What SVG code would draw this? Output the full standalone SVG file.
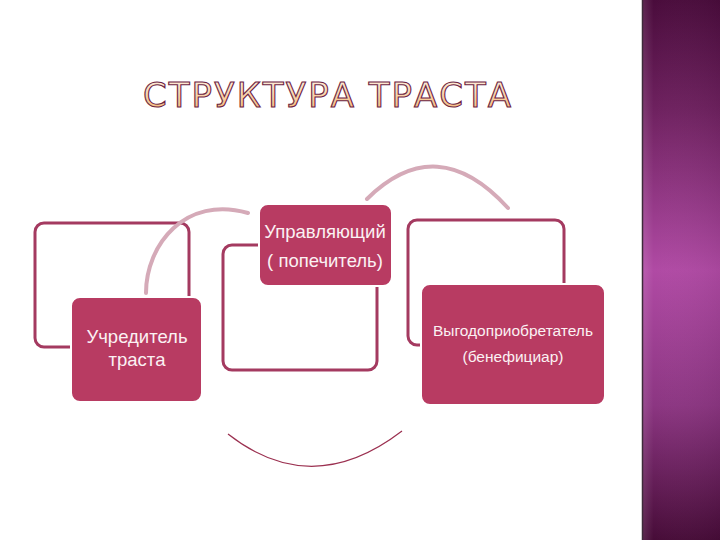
<svg xmlns="http://www.w3.org/2000/svg" width="720" height="540" viewBox="0 0 720 540">
<defs>
<linearGradient id="side" x1="0" y1="0" x2="0" y2="1">
<stop offset="0" stop-color="#4a0c3c"/>
<stop offset="0.2" stop-color="#6e215f"/>
<stop offset="0.5" stop-color="#b04aa4"/>
<stop offset="0.75" stop-color="#8c3682"/>
<stop offset="1" stop-color="#470c38"/>
</linearGradient>
<linearGradient id="sideh" x1="0" y1="0" x2="1" y2="0">
<stop offset="0" stop-color="#ffffff" stop-opacity="0.12"/>
<stop offset="0.15" stop-color="#ffffff" stop-opacity="0"/>
<stop offset="1" stop-color="#000000" stop-opacity="0.05"/>
</linearGradient>
<linearGradient id="title" x1="0" y1="0" x2="0" y2="1">
<stop offset="0" stop-color="#fff6ea"/>
<stop offset="1" stop-color="#f4b26a"/>
</linearGradient>
<style>
.outline{fill:none;stroke:#a43a60;stroke-width:3}
.box{fill:#b83b62;stroke:#ffffff;stroke-width:2}
.lbl{font-family:"Liberation Sans","DejaVu Sans",sans-serif;fill:#fbf1f3;text-anchor:middle}
.arc{fill:none;stroke:#d5aab8;stroke-width:4;stroke-linecap:round}
.thin{fill:none;stroke:#9b3050;stroke-width:1.2}
</style>
</defs>
<rect x="0" y="0" width="720" height="540" fill="#ffffff"/>
<rect x="642" y="0" width="78" height="540" fill="url(#side)"/>
<rect x="642" y="0" width="78" height="540" fill="url(#sideh)"/>
<line x1="642.5" y1="0" x2="642.5" y2="540" stroke="#3e2a3a" stroke-width="1.5"/>
<text x="327" y="107" font-family="'DejaVu Sans','Liberation Sans',sans-serif" font-size="34" fill="url(#title)" stroke="#6d2444" stroke-width="1.1" text-anchor="middle" textLength="368" lengthAdjust="spacing">СТРУКТУРА ТРАСТА</text>
<g id="node1">
<rect class="outline" x="35" y="223" width="154" height="124" rx="9"/>
</g>
<g id="node2">
<rect class="outline" x="223" y="245" width="154" height="125" rx="9"/>
</g>
<g id="node3">
<rect class="outline" x="408" y="220" width="156" height="125" rx="9"/>
</g>
<g id="connectors">
<path class="arc" d="M146,293 C146,245 185,195 248,213"/>
<path class="arc" d="M367,199 Q437,130 508,208"/>
<path class="thin" d="M228,434 Q312,500 402,431"/>
</g>
<g id="node1-box">
<rect class="box" x="71" y="297" width="131" height="105" rx="9"/>
<text class="lbl" x="137" y="343" font-size="18.5">Учредитель</text>
<text class="lbl" x="137" y="366" font-size="18.5">траста</text>
</g>
<g id="node2-box">
<rect class="box" x="259" y="204" width="133" height="82" rx="9"/>
<text class="lbl" x="325" y="238" font-size="18.5">Управляющий</text>
<text class="lbl" x="325" y="267" font-size="18.5">( попечитель)</text>
</g>
<g id="node3-box">
<rect class="box" x="421" y="284" width="184" height="121" rx="9"/>
<text class="lbl" x="513" y="336" font-size="15.5">Выгодоприобретатель</text>
<text class="lbl" x="513" y="362" font-size="15.5">(бенефициар)</text>
</g>
</svg>
